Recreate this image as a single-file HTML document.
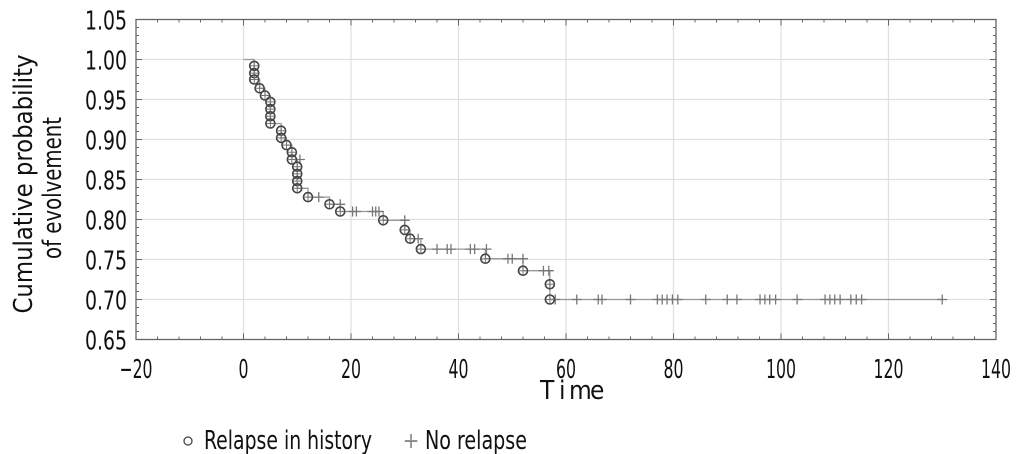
<!DOCTYPE html>
<html><head><meta charset="utf-8"><style>
html,body{margin:0;padding:0;background:#fff;}
svg{display:block;font-family:"DejaVu Sans Condensed","Liberation Sans Narrow","Liberation Sans",sans-serif;}
</style></head><body>
<svg id="chart" width="1024" height="454" viewBox="0 0 1024 454" xmlns="http://www.w3.org/2000/svg">
<g id="grid"></g>
<g id="axes"></g>
<g id="series"></g>
<text y="399" font-size="26" fill="#111"><tspan x="540">T</tspan><tspan x="559">i</tspan><tspan x="569">m</tspan><tspan x="590">e</tspan></text>
<text transform="translate(32,184) rotate(-90)" text-anchor="middle" font-size="26" textLength="259" lengthAdjust="spacingAndGlyphs" fill="#111">Cumulative probability</text>
<text transform="translate(61,188) rotate(-90)" text-anchor="middle" font-size="26" textLength="142" lengthAdjust="spacingAndGlyphs" fill="#111">of evolvement</text>
<g>
<circle cx="188" cy="441" r="4" fill="none" stroke="#444" stroke-width="1.3"/>
<text x="204" y="449" font-size="26" textLength="168" lengthAdjust="spacingAndGlyphs" fill="#111">Relapse in history</text>
<text x="411" y="448" font-size="22" text-anchor="middle" fill="#888">+</text>
<text x="425" y="449" font-size="26" textLength="102" lengthAdjust="spacingAndGlyphs" fill="#111">No relapse</text>
</g>
</svg>
<script>
const xTicks=[-20,0,20,40,60,80,100,120,140];
const yTicks=[0.65,0.70,0.75,0.80,0.85,0.90,0.95,1.00,1.05];
const yTickLabels=["0.65","0.70","0.75","0.80","0.85","0.90","0.95","1.00","1.05"];
const eventTimes=[2,2,2,3,4,5,5,5,5,7,7,8,9,9,10,10,10,10,12,16,18,26,30,31,33,45,52,57,57];
const eventSurv=[0.992,0.983,0.975,0.964,0.955,0.947,0.938,0.929,0.920,0.911,0.902,0.893,0.884,0.875,0.866,0.857,0.848,0.839,0.828,0.819,0.810,0.799,0.787,0.776,0.763,0.751,0.736,0.719,0.700];
const censTimes=[10.5,14,18,20.3,21,24,24.6,25.2,30,32.5,36,37.9,38.6,42.2,43,45.2,49.2,50,52,55.8,56.8,58,62,66,66.7,72,77,77.9,78.8,79.8,80.8,86,90,91.8,96.1,97,97.9,99,103,108.2,109.1,110,111,113,114,115,130];
const censSurv=[0.875,0.828,0.819,0.810,0.810,0.810,0.810,0.810,0.799,0.776,0.763,0.763,0.763,0.763,0.763,0.763,0.751,0.751,0.751,0.736,0.736,0.700,0.700,0.700,0.700,0.700,0.700,0.700,0.700,0.700,0.700,0.700,0.700,0.700,0.700,0.700,0.700,0.700,0.700,0.700,0.700,0.700,0.700,0.700,0.700,0.700,0.700];
const L=136,R=996,T=19.5,B=339.5;
const xs=v=>L+(v+20)/160*(R-L);
const ys=v=>B-(v-0.65)/0.4*(B-T);
const NS="http://www.w3.org/2000/svg";
function mk(tag,attrs,parent){const e=document.createElementNS(NS,tag);for(const k in attrs)e.setAttribute(k,attrs[k]);parent.appendChild(e);return e;}
const grid=document.getElementById('grid'),axes=document.getElementById('axes'),series=document.getElementById('series');
xTicks.forEach(t=>{if(t>-20&&t<140){const l=mk('line',{x1:xs(t),x2:xs(t),y1:T,y2:B,stroke:'#e0e0e0','stroke-width':1.3},grid);}});
yTicks.forEach(t=>{if(t>0.651&&t<1.049){const l=mk('line',{x1:L,x2:R,y1:ys(t),y2:ys(t),stroke:'#e0e0e0','stroke-width':1.3},grid);}});
const frame=mk('rect',{x:L,y:T,width:R-L,height:B-T,fill:'none',stroke:'#666','stroke-width':1.3},axes);


for(let v=-20;v<=140;v+=4){const len=(v%20===0)?6:3;[[B,B-len],[T,T+len]].forEach(p=>{const l=mk('line',{x1:xs(v),x2:xs(v),y1:p[0],y2:p[1],stroke:'#666','stroke-width':1},axes);});}
for(let i=0;i<=40;i++){const v=0.65+i*0.01;const len=(i%5===0)?6:3;[[L,L+len],[R,R-len]].forEach(p=>{const l=mk('line',{x1:p[0],x2:p[1],y1:ys(v),y2:ys(v),stroke:'#666','stroke-width':1},axes);});}
xTicks.forEach(t=>{const s=t<0?'\u221220':String(t);const w=s.length*10+(t<0?3:0);const tx=mk('text',{x:xs(t),y:378,'font-size':26,'text-anchor':'middle',textLength:w,lengthAdjust:'spacingAndGlyphs',fill:'#111'},axes);tx.textContent=s;});
yTicks.forEach((t,i)=>{const tx=mk('text',{x:127,y:ys(t)+10,'font-size':26,'text-anchor':'end',textLength:42,lengthAdjust:'spacingAndGlyphs',fill:'#111'},axes);tx.textContent=yTickLabels[i];});
let d='M'+xs(0)+','+ys(1.0);
eventTimes.forEach((t,i)=>{d+=' H'+xs(t)+' V'+ys(eventSurv[i]);});
d+=' H'+xs(Math.max(...censTimes));
const p=mk('path',{d:d,fill:'none',stroke:'#999','stroke-width':1.3},series);


censTimes.forEach((t,i)=>{const x=xs(t),y=ys(censSurv[i]);const g=mk('path',{d:`M${x-5},${y}H${x+5}M${x},${y-5}V${y+5}`,stroke:'#777','stroke-width':1.3,fill:'none'},series);});
eventTimes.forEach((t,i)=>{const x=xs(t),y=ys(eventSurv[i]);const c=mk('circle',{cx:x,cy:y,r:4.5,fill:'none',stroke:'#444','stroke-width':1.6},series);const g=mk('path',{d:`M${x-4},${y}H${x+4}M${x},${y-4}V${y+4}`,stroke:'#777','stroke-width':1},series);});
</script>
</body></html>
